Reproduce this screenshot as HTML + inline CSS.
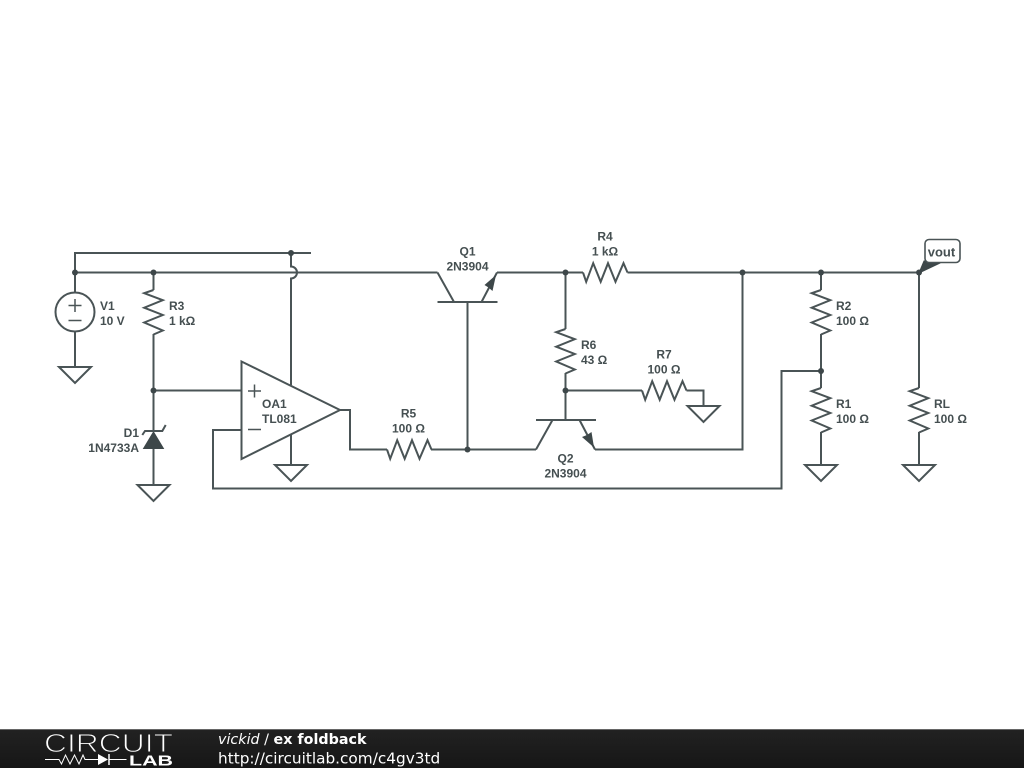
<!DOCTYPE html>
<html>
<head>
<meta charset="utf-8">
<style>
html,body{margin:0;padding:0;background:#fff;width:1024px;height:768px;overflow:hidden}
svg{display:block;filter:blur(.35px)}
.w{fill:none;stroke:#4a5456;stroke-width:2;stroke-linejoin:miter}
.t{font-family:"Liberation Sans",sans-serif;font-weight:bold;font-size:12px;fill:#454f51}
.m{text-anchor:middle}
.e{text-anchor:end}
.f{font-family:"DejaVu Sans",sans-serif;fill:#fff}
</style>
</head>
<body>
<svg width="1024" height="768" viewBox="0 0 1024 768" xmlns="http://www.w3.org/2000/svg">
<defs>
<path id="r" d="M0 0L3.2 9.3L10.2 -9.3L17.7 9.3L25 -9.3L32.5 9.3L40.5 -9.3L44.5 0" fill="none" stroke="#4a5456" stroke-width="2"/>
<path id="g" d="M-16 0H16L0 16Z" fill="none" stroke="#4a5456" stroke-width="2"/>
<linearGradient id="bar" x1="0" y1="0" x2="0" y2="1">
<stop offset="0" stop-color="#222"/>
<stop offset="1" stop-color="#161616"/>
</linearGradient>
</defs>
<rect width="1024" height="768" fill="#fff"/>

<!-- wires -->
<path class="w" d="M311 253H75V292"/>
<path class="w" d="M75 272.5H437.5M497 272.5H583M627.5 272.5H919"/>
<path class="w" d="M75 332V367"/>
<path class="w" d="M153.5 272.5V290M153.5 334V431M153.5 449V485"/>
<path class="w" d="M153.5 390.5H241.5"/>
<path class="w" d="M291 253V266.5A6 6 0 0 1 291 278.5V385M291 435V465"/>
<path class="w" d="M340 410H350V449.5H387M431 449.5H536"/>
<path class="w" d="M467.5 302V449.5"/>
<path class="w" d="M565.5 272.5V329M565.5 373V420"/>
<path class="w" d="M565.5 390.5H642M686.5 390.5H703.5V406"/>
<path class="w" d="M595 449.5H742.5V272.5"/>
<path class="w" d="M821 272.5V290M821 334V388M821 432V465"/>
<path class="w" d="M919 272.5V388M919 432V465"/>
<path class="w" d="M821 371H781.5V488.5H213V430H241.5"/>

<!-- resistors -->
<use href="#r" transform="translate(153.5,290) rotate(90)"/>
<use href="#r" transform="translate(583,272.5)"/>
<use href="#r" transform="translate(387,449.5)"/>
<use href="#r" transform="translate(565.5,329) rotate(90)"/>
<use href="#r" transform="translate(642,390.5)"/>
<use href="#r" transform="translate(821,290) rotate(90)"/>
<use href="#r" transform="translate(821,388) rotate(90)"/>
<use href="#r" transform="translate(919,388) rotate(90)"/>

<!-- grounds -->
<use href="#g" transform="translate(75,367)"/>
<use href="#g" transform="translate(153.5,485)"/>
<use href="#g" transform="translate(291,465)"/>
<use href="#g" transform="translate(703.5,406)"/>
<use href="#g" transform="translate(821,465)"/>
<use href="#g" transform="translate(919,465)"/>

<!-- V1 -->
<circle class="w" cx="75" cy="312" r="19.5"/>
<path class="w" style="stroke-width:1.5" d="M68.5 305.5H81.5M75 299V312M68.5 320.5H81.5"/>

<!-- op amp -->
<path class="w" d="M241.5 361.5L340 410L241.5 459Z"/>
<path class="w" style="stroke-width:1.5" d="M248 391H261M254.5 384.5V397.5M248 429.5H261"/>

<!-- zener -->
<path d="M153.5 431L164.3 449H142.7Z" fill="#3d4749"/>
<path class="w" d="M142.3 435L145 431H162.3L165.7 425"/>

<!-- Q1 -->
<path class="w" d="M437.5 302H497.5M437.5 272.5L454 302M481.5 302L497 272.5"/>
<path d="M496 275L484.5 285L488.5 287.5L492.5 291Z" fill="#3d4749"/>

<!-- Q2 -->
<path class="w" d="M536 420H596M552.5 420L536 449.5M579.5 420L595 449.5"/>
<path d="M594 447.5L582 437L587 435L591.5 432Z" fill="#3d4749"/>

<!-- junctions -->
<g fill="#3d4749">
<circle cx="75" cy="272.5" r="3"/>
<circle cx="153.5" cy="272.5" r="3"/>
<circle cx="291" cy="253" r="3"/>
<circle cx="153.5" cy="390.5" r="3"/>
<circle cx="467.5" cy="449.5" r="3"/>
<circle cx="565.5" cy="272.5" r="3"/>
<circle cx="565.5" cy="390.5" r="3"/>
<circle cx="742.5" cy="272.5" r="3"/>
<circle cx="821" cy="272.5" r="3"/>
<circle cx="821" cy="371" r="3"/>
<circle cx="919" cy="272.5" r="3"/>
</g>

<!-- vout -->
<path d="M919 273L924 261H940V263Z" fill="#3d4749" stroke="#3d4749" stroke-width="1"/>
<rect x="925" y="239.5" width="35" height="23" rx="4" fill="#fff" stroke="#4a5456" stroke-width="1.6"/>
<text class="t m" x="941.5" y="256.5" style="font-size:13px">vout</text>

<!-- labels -->
<text class="t" x="100" y="310">V1</text>
<text class="t" x="100" y="325">10 V</text>
<text class="t" x="169" y="310">R3</text>
<text class="t" x="169" y="325">1 kΩ</text>
<text class="t e" x="139" y="437">D1</text>
<text class="t e" x="139" y="452">1N4733A</text>
<text class="t" x="262" y="408">OA1</text>
<text class="t" x="262" y="423">TL081</text>
<text class="t m" x="467.5" y="255.7">Q1</text>
<text class="t m" x="467.5" y="270.7">2N3904</text>
<text class="t m" x="605" y="240.7">R4</text>
<text class="t m" x="605" y="255.7">1 kΩ</text>
<text class="t m" x="408.5" y="417.6">R5</text>
<text class="t m" x="408.5" y="432.6">100 Ω</text>
<text class="t" x="581" y="349">R6</text>
<text class="t" x="581" y="364">43 Ω</text>
<text class="t m" x="664" y="358.5">R7</text>
<text class="t m" x="664" y="373.5">100 Ω</text>
<text class="t m" x="565.5" y="462.6">Q2</text>
<text class="t m" x="565.5" y="477.6">2N3904</text>
<text class="t" x="836" y="310">R2</text>
<text class="t" x="836" y="325">100 Ω</text>
<text class="t" x="836" y="408">R1</text>
<text class="t" x="836" y="423">100 Ω</text>
<text class="t" x="934" y="408">RL</text>
<text class="t" x="934" y="423">100 Ω</text>

<!-- footer -->
<rect x="0" y="729" width="1024" height="39" fill="url(#bar)"/>
<rect x="0" y="729" width="1024" height="1" fill="#666"/>
<text x="44" y="752" textLength="129" lengthAdjust="spacingAndGlyphs" style="font-family:'Liberation Sans',sans-serif;font-size:26px;fill:#fff;stroke:#1f1f1f;stroke-width:1">CIRCUIT</text>
<text x="129" y="765.5" textLength="44" lengthAdjust="spacingAndGlyphs" style="font-family:'Liberation Sans',sans-serif;font-weight:bold;font-size:15px;fill:#fff">LAB</text>
<path d="M45 759.5H59L61.5 764L65.5 755L70 764L74.5 755L79 764L83 755L85 759.5H98M109 759.5H126.5" fill="none" stroke="#fff" stroke-width="1"/>
<path d="M98 754L108 759.5L98 765Z" fill="#fff"/>
<path d="M109 754V765" stroke="#fff" stroke-width="1.5"/>
<text class="f" x="218" y="744" style="font-size:14.3px"><tspan font-style="italic">vickid</tspan> / <tspan font-weight="bold">ex foldback</tspan></text>
<text class="f" x="218" y="763.5" style="font-size:15.3px">http://circuitlab.com/c4gv3td</text>
</svg>
</body>
</html>
